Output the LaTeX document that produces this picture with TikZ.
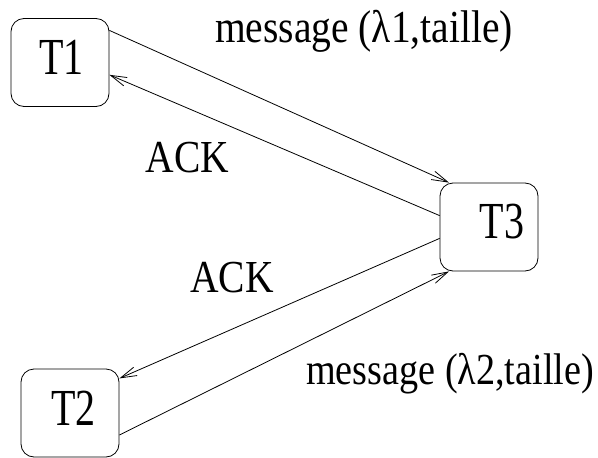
\documentclass[tikz,border=0pt]{standalone}
\usepackage{graphicx}
\usepackage{fontspec}
\setmainfont{Liberation Serif}
\usetikzlibrary{arrows.meta}

\newcommand{\tallA}[1]{\scalebox{1}[1.16]{#1}}
\newcommand{\tallB}[1]{\scalebox{1}[1.3]{#1}}

\tikzset{
  tache/.style={draw, rounded corners=13pt, line width=0.8pt, inner sep=0pt,
    minimum width=98pt, minimum height=88pt},
  nom/.style={font=\fontsize{40}{42}\selectfont, inner sep=0pt},
  lbl/.style={font=\fontsize{39.5}{41}\selectfont, inner sep=0pt},
  fleche/.style={line width=0.8pt, -{Straight Barb[length=16pt,width=9pt,line width=0.8pt]}}
}

\begin{document}
\begin{tikzpicture}[x=1pt, y=-1pt]
  \useasboundingbox (0,0) rectangle (598,458);
  % les trois taches
  \node[tache, label={[nom, xshift=1.5pt, yshift=5.5pt]center:\tallB{T1}}] (t1) at (60,62.5) {};
  \node[tache, label={[nom, xshift=13pt, yshift=5.5pt]center:\tallB{T3}}] (t3) at (489,227) {};
  \node[tache, label={[nom, xshift=3.5pt, yshift=4.5pt]center:\tallB{T2}}] (t2) at (70,413) {};

  % messages et acquittements
  \draw[fleche] (t1.33) -- (t3.132);
  \draw[fleche] (t3.167) -- (t1.-14);
  \draw[fleche] (t3.193) -- (t2.35);
  \draw[fleche] (t2.-24) -- (t3.228);

  \node[lbl] (m1) at (364,31) {\tallA{message (λ1,taille)}};
  \node[lbl] (a1) at (187.5,157.5) {\tallA{ACK}};
  \node[lbl] (a2) at (232,277.5) {\tallA{ACK}};
  \node[lbl, font=\fontsize{38.2}{40}\selectfont] (m2) at (450,374) {\tallA{message (λ2,taille)}};
\end{tikzpicture}
\end{document}
